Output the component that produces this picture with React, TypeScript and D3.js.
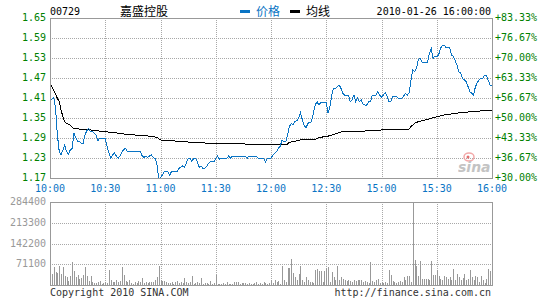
import React from 'react';
import * as d3 from 'd3';

// ---------- data ----------
const stockCode = '00729';
const stockName = '嘉盛控股';
const dateLabel = '2010-01-26 16:00:00';
const legendLabels = ['价格', '均线'];
const preClose = 0.9;

const priceTicks = [1.17, 1.23, 1.29, 1.35, 1.41, 1.47, 1.53, 1.59, 1.65];
const timeLabels = ['10:00', '10:30', '11:00', '11:30', '12:00', '12:30', '15:00', '15:30', '16:00'];
const timeTickMinutes = [0, 30, 60, 90, 120, 150, 180, 210, 240];
const volTicks = [71100, 142200, 213300, 284400];

// [minute index, price]
const priceSeries: [number, number][] = [
  [0, 1.4], [1, 1.406], [2, 1.412], [3, 1.38], [4, 1.3], [5, 1.25], [6, 1.24], [7, 1.254], [8, 1.269], [9, 1.249],
  [10, 1.242], [11, 1.254], [12, 1.259], [13, 1.304], [14, 1.292], [15, 1.28], [16, 1.279], [17, 1.274], [18, 1.274],
  [19, 1.299], [20, 1.312], [21, 1.319], [22, 1.309], [23, 1.31], [24, 1.304], [25, 1.299], [26, 1.282], [27, 1.289],
  [30, 1.289], [31, 1.264], [32, 1.246], [33, 1.229], [34, 1.239], [35, 1.246], [36, 1.236], [37, 1.229], [38, 1.236],
  [39, 1.247], [40, 1.255], [41, 1.259], [42, 1.249], [49, 1.249], [50, 1.237], [51, 1.232], [52, 1.236], [53, 1.232],
  [54, 1.236], [55, 1.239], [56, 1.232], [57, 1.229], [58, 1.214], [59, 1.17], [60, 1.17], [61, 1.179],
  [62, 1.189], [64, 1.189], [65, 1.179], [66, 1.189], [69, 1.189], [70, 1.199], [71, 1.202], [72, 1.206], [73, 1.202],
  [74, 1.214], [75, 1.229], [76, 1.229], [77, 1.219], [78, 1.229], [79, 1.229], [80, 1.219], [81, 1.202], [82, 1.206],
  [83, 1.199], [84, 1.199], [85, 1.204], [86, 1.214], [87, 1.219], [89, 1.219], [90, 1.229], [91, 1.236], [92, 1.226],
  [93, 1.229], [96, 1.229], [97, 1.236], [98, 1.229], [99, 1.236], [106, 1.236], [107, 1.229], [108, 1.236],
  [112, 1.236], [113, 1.229], [116, 1.229], [117, 1.219], [118, 1.229], [120, 1.229], [121, 1.239], [122, 1.244],
  [123, 1.249], [124, 1.259], [125, 1.265], [126, 1.284], [127, 1.279], [128, 1.279], [129, 1.299], [130, 1.324],
  [131, 1.334], [132, 1.329], [133, 1.339], [134, 1.342], [135, 1.349], [136, 1.366], [137, 1.345], [138, 1.329],
  [139, 1.319], [140, 1.334], [142, 1.339], [143, 1.364], [144, 1.389], [145, 1.399], [146, 1.389], [147, 1.397],
  [150, 1.397], [151, 1.364], [152, 1.384], [153, 1.42], [154, 1.439], [155, 1.439], [156, 1.444], [157, 1.449],
  [158, 1.439], [159, 1.424], [160, 1.419], [162, 1.419], [163, 1.399], [164, 1.404], [165, 1.419], [166, 1.399],
  [167, 1.409], [168, 1.399], [169, 1.404], [170, 1.392], [171, 1.389], [172, 1.389], [173, 1.399], [174, 1.399],
  [175, 1.419], [177, 1.419], [178, 1.429], [179, 1.419], [180, 1.412], [181, 1.419], [182, 1.426], [183, 1.415],
  [184, 1.399], [185, 1.399], [186, 1.416], [188, 1.416], [189, 1.409], [191, 1.409], [192, 1.416], [193, 1.424],
  [194, 1.419], [195, 1.426], [196, 1.464], [197, 1.494], [198, 1.489], [199, 1.499], [200, 1.526], [201, 1.529],
  [202, 1.517], [205, 1.517], [206, 1.544], [207, 1.559], [208, 1.529], [209, 1.536], [210, 1.534], [211, 1.539],
  [212, 1.559], [213, 1.566], [214, 1.569], [215, 1.561], [217, 1.561], [218, 1.539], [219, 1.536], [220, 1.522],
  [221, 1.509], [222, 1.489], [223, 1.484], [224, 1.469], [225, 1.464], [226, 1.459], [227, 1.444], [228, 1.429],
  [229, 1.424], [230, 1.419], [231, 1.444], [232, 1.456], [233, 1.464], [234, 1.469], [235, 1.469], [236, 1.479],
  [237, 1.479], [238, 1.462], [239, 1.449], [240, 1.449],
];

// [minute index, average price]
const avgSeries: [number, number][] = [
  [0, 1.452], [2, 1.434], [4, 1.409], [5, 1.399], [6, 1.374], [7, 1.354], [8, 1.339], [9, 1.334], [11, 1.329],
  [12, 1.322], [13, 1.319], [17, 1.316], [22, 1.314], [30, 1.309], [35, 1.306], [40, 1.302], [46, 1.299],
  [53, 1.296], [58, 1.292], [60, 1.284], [68, 1.281], [75, 1.278], [84, 1.275], [106, 1.272], [129, 1.272],
  [130, 1.277], [136, 1.284], [144, 1.286], [146, 1.292], [150, 1.294], [153, 1.299], [155, 1.302], [158, 1.308],
  [167, 1.309], [173, 1.312], [180, 1.314], [195, 1.317], [196, 1.324], [198, 1.334], [200, 1.339], [205, 1.346],
  [208, 1.351], [214, 1.359], [220, 1.364], [229, 1.369], [240, 1.374],
];

// volume per minute, minute 0..240
const volumes: number[] = [
  30000, 37600, 60300, 43200, 39800, 66000, 37600, 62600, 29600, 26200,
  14800, 31900, 79700, 48900, 26200, 35300, 20500, 22800, 35300, 60300,
  31900, 14800, 31900, 11400, 6800, 6800, 9100, 14800, 3400, 6800,
  9100, 6800, 52300, 18200, 9100, 11400, 18200, 9100, 14800, 60300,
  35300, 14800, 11400, 18200, 6800, 3400, 11400, 6800, 14800, 11400,
  22800, 5700, 11400, 6800, 9100, 11400, 9100, 18200, 28500, 63700,
  18200, 14800, 14800, 9100, 6800, 6800, 11400, 3400, 11400, 14800,
  6800, 9100, 6800, 23900, 9100, 6800, 9100, 29600, 3400, 6800,
  11400, 6800, 22800, 3400, 6800, 6800, 3400, 14800, 3400, 6800,
  35300, 3400, 3400, 3400, 6800, 3400, 11400, 3400, 3400, 3400,
  11400, 11400, 11400, 3400, 6800, 6800, 6800, 3400, 6800, 3400,
  3400, 6800, 11400, 3400, 6800, 3400, 11400, 6800, 3400, 6800,
  15900, 6800, 15900, 11400, 12500, 4500, 66000, 18200, 9100, 58000,
  58000, 88800, 41000, 27300, 18200, 38700, 66000, 18200, 9100, 27300,
  18200, 11400, 9100, 6800, 52300, 55800, 46700, 48900, 9100, 46700,
  58000, 61500, 9100, 43200, 27300, 18200, 66000, 18200, 27300, 20500,
  15900, 12500, 15900, 12500, 11400, 15900, 12500, 15900, 15900, 15900,
  9100, 12500, 9100, 6800, 78500, 12500, 9100, 15900, 20500, 6800,
  9100, 6800, 9100, 6800, 50100, 35300, 12500, 9100, 6800, 9100,
  12500, 9100, 27300, 15900, 31900, 31900, 9100, 282000, 86500, 66000,
  31900, 80800, 20500, 20500, 20500, 20500, 15900, 80800, 35300, 35300,
  50100, 31900, 20500, 15900, 31900, 27300, 20500, 27300, 15900, 54600,
  15900, 38700, 27300, 18200, 23900, 38700, 15900, 20500, 50100, 27300,
  18200, 29600, 27300, 11400, 31900, 15900, 6800, 20500, 55800, 46700,
  23900,
];

// ---------- chart ----------
const MONO = '"DejaVu Sans Mono", "Liberation Mono", monospace';
const CJK = '"Noto Sans CJK SC", sans-serif';
const GREEN = '#008000';
const BLUE = '#0a74c4';
const GRID = '#a8a8a8';
const BORDER = '#999999';

export default function App() {
  const x = d3.scaleLinear().domain([0, 240]).range([50, 492]);
  const y = d3.scaleLinear().domain([1.17, 1.65]).range([178, 18]);
  const yv = d3.scaleLinear().domain([0, 284400]).range([285, 202]);

  const line = d3
    .line<[number, number]>()
    .x((d) => x(d[0]))
    .y((d) => y(d[1]));

  const px = (v: number) => Math.round(v) + 0.5;
  const gridMinutes = timeTickMinutes.slice(1, -1);

  return (
    <svg
      width={545}
      height={300}
      style={{ position: 'absolute', left: 0, top: 0, background: '#fff' }}
    >
      <rect x={0} y={0} width={545} height={300} fill="#fff" />

      {/* header */}
      <text x={50} y={15} fontFamily={MONO} fontSize={10} fill="#000">
        {stockCode}
      </text>
      <text x={120} y={16} fontFamily={CJK} fontSize={12} fill="#000">
        {stockName}
      </text>
      <rect x={240} y={10} width={10} height={3} fill={BLUE} />
      <text x={256} y={16} fontFamily={CJK} fontSize={12} fill={BLUE}>
        {legendLabels[0]}
      </text>
      <rect x={290} y={10} width={10} height={3} fill="#000" />
      <text x={306} y={16} fontFamily={CJK} fontSize={12} fill="#000">
        {legendLabels[1]}
      </text>
      <text x={491} y={15} fontFamily={MONO} fontSize={10} fill="#000" textAnchor="end">
        {dateLabel}
      </text>

      {/* main grid */}
      <g shapeRendering="crispEdges">
        {priceTicks.slice(1, -1).map((p) => (
          <line
            key={'h' + p}
            x1={50}
            x2={492}
            y1={px(y(p))}
            y2={px(y(p))}
            stroke={GRID}
            strokeDasharray="1,1"
          />
        ))}
        {gridMinutes.map((m) => (
          <line
            key={'v' + m}
            x1={px(x(m))}
            x2={px(x(m))}
            y1={18}
            y2={178}
            stroke={GRID}
            strokeDasharray="1,1"
          />
        ))}
      </g>

      {/* sina watermark */}
      <g opacity={0.9}>
        <ellipse cx={469} cy={157} rx={5} ry={4} fill="none" stroke="#f2a0a0" strokeWidth={1.5} />
        <circle cx={468} cy={157} r={1.5} fill="#e06060" />
        <text x={458} y={172} fontFamily='"DejaVu Sans", sans-serif' fontSize={14} fontWeight="bold" fontStyle="italic" fill="#bdbdbd">
          sina
        </text>
      </g>

      {/* lines */}
      <path d={line(avgSeries) || ''} fill="none" stroke="#000" strokeWidth={1} shapeRendering="crispEdges" />
      <path d={line(priceSeries) || ''} fill="none" stroke={BLUE} strokeWidth={1} shapeRendering="crispEdges" />

      {/* main border */}
      <rect x={50.5} y={18.5} width={442} height={160} fill="none" stroke={BORDER} shapeRendering="crispEdges" />

      {/* left labels */}
      {priceTicks.map((p) => (
        <text key={'l' + p} x={46} y={y(p) + 3} fontFamily={MONO} fontSize={10} fill={GREEN} textAnchor="end">
          {p.toFixed(2)}
        </text>
      ))}
      {/* right labels */}
      {priceTicks.map((p) => (
        <text key={'r' + p} x={495} y={y(p) + 3} fontFamily={MONO} fontSize={10} fill={GREEN}>
          {(((p / preClose) - 1) * 100 >= 0 ? '+' : '') + (((p / preClose) - 1) * 100).toFixed(2) + '%'}
        </text>
      ))}
      {/* time labels */}
      {timeLabels.map((t, i) => (
        <text
          key={'t' + t}
          x={x(timeTickMinutes[i])}
          y={192}
          fontFamily={MONO}
          fontSize={10}
          fill={BLUE}
          textAnchor="middle"
        >
          {t}
        </text>
      ))}

      {/* volume grid */}
      <g shapeRendering="crispEdges">
        {volTicks.slice(0, -1).map((v) => (
          <line
            key={'vh' + v}
            x1={50}
            x2={492}
            y1={px(yv(v))}
            y2={px(yv(v))}
            stroke={GRID}
            strokeDasharray="1,1"
          />
        ))}
        {gridMinutes.map((m) => (
          <line
            key={'vv' + m}
            x1={px(x(m))}
            x2={px(x(m))}
            y1={202}
            y2={285}
            stroke={GRID}
            strokeDasharray="1,1"
          />
        ))}
      </g>

      {/* volume bars */}
      <g shapeRendering="crispEdges">
        {volumes.map((v, i) => (
          <rect
            key={'b' + i}
            x={Math.round(x(i))}
            y={yv(v)}
            width={1}
            height={yv(0) - yv(v)}
            fill="#999"
          />
        ))}
      </g>

      <rect x={50.5} y={202.5} width={442} height={83} fill="none" stroke={BORDER} shapeRendering="crispEdges" />

      {volTicks.map((v) => (
        <text key={'vl' + v} x={46} y={yv(v) + 3} fontFamily={MONO} fontSize={10} fill="#999" textAnchor="end">
          {v}
        </text>
      ))}

      {/* footer */}
      <text x={50} y={296} fontFamily={MONO} fontSize={10} fill="#333">
        Copyright 2010 SINA.COM
      </text>
      <text x={491} y={296} fontFamily={MONO} fontSize={10} fill="#333" textAnchor="end">
        http://finance.sina.com.cn
      </text>
    </svg>
  );
}
